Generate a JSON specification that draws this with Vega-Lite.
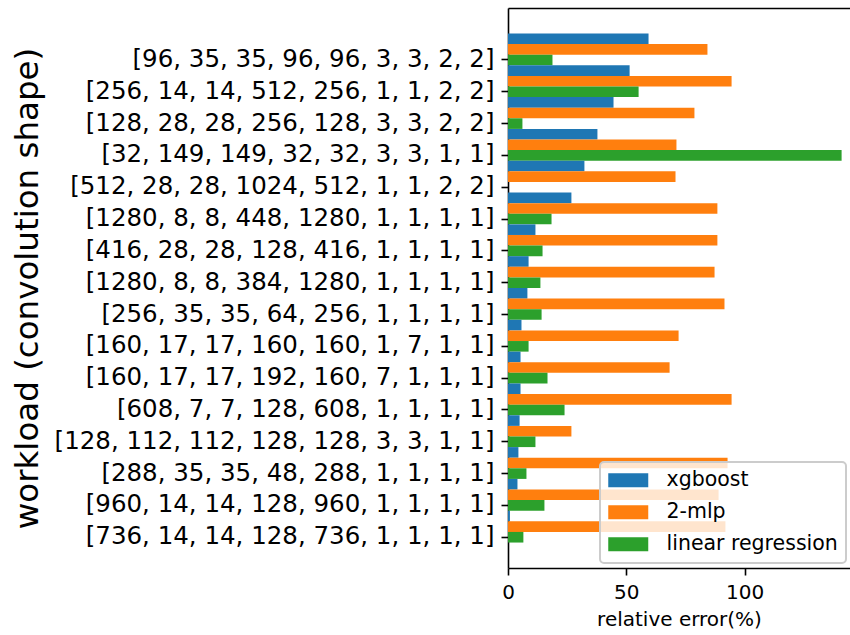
{
  "$schema": "https://vega.github.io/schema/vega-lite/v6.json",
  "width": 342,
  "height": 560,
  "autosize": {"type": "none"},
  "padding": {"left": 508, "top": 8, "right": 0, "bottom": 67},
  "background": "white",
  "config": {
    "view": {"stroke": null},
    "font": "DejaVu Sans",
    "legend": {"strokeWidth": 2},
    "axis": {
      "labelColor": "black",
      "titleColor": "black",
      "domainColor": "black",
      "tickColor": "black",
      "domainWidth": 1.6,
      "tickWidth": 1.6,
      "tickSize": 7,
      "grid": false,
      "titleFontWeight": "normal",
      "labelFont": "DejaVu Sans",
      "titleFont": "DejaVu Sans"
    }
  },
  "data": {
    "values": [
      {"workload": "[96, 35, 35, 96, 96, 3, 3, 2, 2]", "model": "xgboost", "error": 59.4},
      {"workload": "[96, 35, 35, 96, 96, 3, 3, 2, 2]", "model": "2-mlp", "error": 84.3},
      {"workload": "[96, 35, 35, 96, 96, 3, 3, 2, 2]", "model": "linear regression", "error": 18.8},
      {"workload": "[256, 14, 14, 512, 256, 1, 1, 2, 2]", "model": "xgboost", "error": 51.4},
      {"workload": "[256, 14, 14, 512, 256, 1, 1, 2, 2]", "model": "2-mlp", "error": 94.5},
      {"workload": "[256, 14, 14, 512, 256, 1, 1, 2, 2]", "model": "linear regression", "error": 55.2},
      {"workload": "[128, 28, 28, 256, 128, 3, 3, 2, 2]", "model": "xgboost", "error": 44.6},
      {"workload": "[128, 28, 28, 256, 128, 3, 3, 2, 2]", "model": "2-mlp", "error": 78.8},
      {"workload": "[128, 28, 28, 256, 128, 3, 3, 2, 2]", "model": "linear regression", "error": 6.1},
      {"workload": "[32, 149, 149, 32, 32, 3, 3, 1, 1]", "model": "xgboost", "error": 37.8},
      {"workload": "[32, 149, 149, 32, 32, 3, 3, 1, 1]", "model": "2-mlp", "error": 71.2},
      {"workload": "[32, 149, 149, 32, 32, 3, 3, 1, 1]", "model": "linear regression", "error": 141.0},
      {"workload": "[512, 28, 28, 1024, 512, 1, 1, 2, 2]", "model": "xgboost", "error": 32.3},
      {"workload": "[512, 28, 28, 1024, 512, 1, 1, 2, 2]", "model": "2-mlp", "error": 70.8},
      {"workload": "[512, 28, 28, 1024, 512, 1, 1, 2, 2]", "model": "linear regression", "error": 0},
      {"workload": "[1280, 8, 8, 448, 1280, 1, 1, 1, 1]", "model": "xgboost", "error": 26.8},
      {"workload": "[1280, 8, 8, 448, 1280, 1, 1, 1, 1]", "model": "2-mlp", "error": 88.5},
      {"workload": "[1280, 8, 8, 448, 1280, 1, 1, 1, 1]", "model": "linear regression", "error": 18.4},
      {"workload": "[416, 28, 28, 128, 416, 1, 1, 1, 1]", "model": "xgboost", "error": 11.6},
      {"workload": "[416, 28, 28, 128, 416, 1, 1, 1, 1]", "model": "2-mlp", "error": 88.5},
      {"workload": "[416, 28, 28, 128, 416, 1, 1, 1, 1]", "model": "linear regression", "error": 14.6},
      {"workload": "[1280, 8, 8, 384, 1280, 1, 1, 1, 1]", "model": "xgboost", "error": 8.7},
      {"workload": "[1280, 8, 8, 384, 1280, 1, 1, 1, 1]", "model": "2-mlp", "error": 87.3},
      {"workload": "[1280, 8, 8, 384, 1280, 1, 1, 1, 1]", "model": "linear regression", "error": 13.7},
      {"workload": "[256, 35, 35, 64, 256, 1, 1, 1, 1]", "model": "xgboost", "error": 8.2},
      {"workload": "[256, 35, 35, 64, 256, 1, 1, 1, 1]", "model": "2-mlp", "error": 91.5},
      {"workload": "[256, 35, 35, 64, 256, 1, 1, 1, 1]", "model": "linear regression", "error": 14.2},
      {"workload": "[160, 17, 17, 160, 160, 1, 7, 1, 1]", "model": "xgboost", "error": 5.7},
      {"workload": "[160, 17, 17, 160, 160, 1, 7, 1, 1]", "model": "2-mlp", "error": 72.1},
      {"workload": "[160, 17, 17, 160, 160, 1, 7, 1, 1]", "model": "linear regression", "error": 8.7},
      {"workload": "[160, 17, 17, 192, 160, 7, 1, 1, 1]", "model": "xgboost", "error": 5.3},
      {"workload": "[160, 17, 17, 192, 160, 7, 1, 1, 1]", "model": "2-mlp", "error": 68.3},
      {"workload": "[160, 17, 17, 192, 160, 7, 1, 1, 1]", "model": "linear regression", "error": 16.7},
      {"workload": "[608, 7, 7, 128, 608, 1, 1, 1, 1]", "model": "xgboost", "error": 5.3},
      {"workload": "[608, 7, 7, 128, 608, 1, 1, 1, 1]", "model": "2-mlp", "error": 94.5},
      {"workload": "[608, 7, 7, 128, 608, 1, 1, 1, 1]", "model": "linear regression", "error": 23.9},
      {"workload": "[128, 112, 112, 128, 128, 3, 3, 1, 1]", "model": "xgboost", "error": 4.9},
      {"workload": "[128, 112, 112, 128, 128, 3, 3, 1, 1]", "model": "2-mlp", "error": 26.8},
      {"workload": "[128, 112, 112, 128, 128, 3, 3, 1, 1]", "model": "linear regression", "error": 11.6},
      {"workload": "[288, 35, 35, 48, 288, 1, 1, 1, 1]", "model": "xgboost", "error": 4.4},
      {"workload": "[288, 35, 35, 48, 288, 1, 1, 1, 1]", "model": "2-mlp", "error": 92.8},
      {"workload": "[288, 35, 35, 48, 288, 1, 1, 1, 1]", "model": "linear regression", "error": 7.8},
      {"workload": "[960, 14, 14, 128, 960, 1, 1, 1, 1]", "model": "xgboost", "error": 4.0},
      {"workload": "[960, 14, 14, 128, 960, 1, 1, 1, 1]", "model": "2-mlp", "error": 89.0},
      {"workload": "[960, 14, 14, 128, 960, 1, 1, 1, 1]", "model": "linear regression", "error": 15.4},
      {"workload": "[736, 14, 14, 128, 736, 1, 1, 1, 1]", "model": "xgboost", "error": 0.8},
      {"workload": "[736, 14, 14, 128, 736, 1, 1, 1, 1]", "model": "2-mlp", "error": 91.9},
      {"workload": "[736, 14, 14, 128, 736, 1, 1, 1, 1]", "model": "linear regression", "error": 6.5}
    ]
  },
  "layer": [
    {
      "mark": {"type": "bar"},
      "encoding": {
        "y": {
          "field": "workload",
          "type": "nominal",
          "sort": null,
          "scale": {"paddingInner": 0, "paddingOuter": 0.8},
          "axis": {
            "title": "workload (convolution shape)",
            "titleFontSize": 32.5,
            "titleX": -471,
            "titleBaseline": "alphabetic",
            "labelFontSize": 24.5,
            "labelPadding": 7,
            "labelOffset": 10.6,
            "bandPosition": 0.8333,
            "labelLimit": 500
          }
        },
        "yOffset": {
          "field": "model",
          "type": "nominal",
          "sort": null,
          "scale": {"paddingInner": 0, "paddingOuter": 0}
        },
        "x": {
          "field": "error",
          "type": "quantitative",
          "scale": {"domain": [0, 144.55], "nice": false, "zero": true},
          "axis": {
            "values": [0, 50, 100],
            "title": "relative error(%)",
            "titleFontSize": 20,
            "titlePadding": 7,
            "labelFontSize": 20,
            "labelPadding": 7,
            "labelFlush": false
          }
        },
        "color": {
          "field": "model",
          "type": "nominal",
          "sort": null,
          "scale": {
            "domain": ["xgboost", "2-mlp", "linear regression"],
            "range": ["#1f77b4", "#ff7f0e", "#2ca02c"]
          },
          "legend": {
            "orient": "none",
            "legendX": 92,
            "legendY": 454,
            "title": null,
            "labelFontSize": 20.5,
            "labelColor": "black",
            "labelFont": "DejaVu Sans",
            "labelLimit": 300,
            "symbolType": "M-2,-0.7H2V0.7H-2Z",
            "symbolSize": 400,
            "symbolOffset": 10,
            "symbolStrokeWidth": 0,
            "symbolOpacity": 1,
            "labelOffset": 28,
            "rowPadding": 11,
            "padding": 8,
            "fillColor": "rgba(255,255,255,0.8)",
            "strokeColor": "#cccccc",
            "cornerRadius": 4
          }
        }
      }
    },
    {
      "mark": {"type": "point", "opacity": 0},
      "encoding": {
        "x": {
          "field": "error",
          "type": "quantitative",
          "axis": {
            "orient": "top",
            "labels": false,
            "ticks": false,
            "title": null,
            "domain": true
          }
        }
      }
    }
  ],
  "resolve": {"axis": {"x": "independent"}}
}
